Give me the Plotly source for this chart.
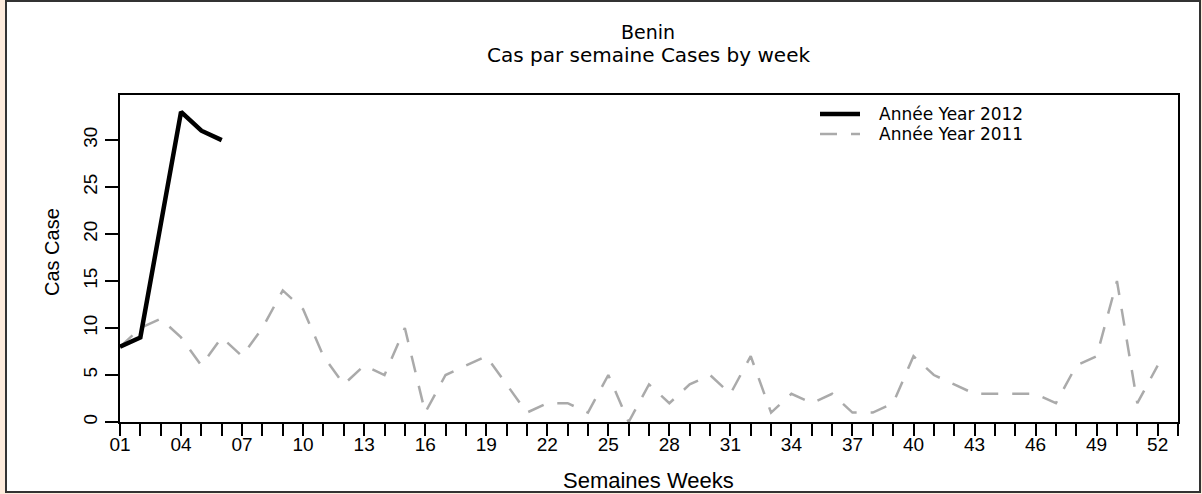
import plotly.graph_objects as go

# ---- data ----
weeks_2012 = [1, 2, 3, 4, 5, 6]
cases_2012 = [8, 9, 21, 33, 31, 30]

weeks_2011 = list(range(1, 53))
cases_2011 = [8, 10, 11, 9, 6, 9, 7, 10, 14, 12, 7, 4, 6, 5, 10, 1, 5, 6, 7, 4,
              1, 2, 2, 1, 5, 0, 4, 2, 4, 5, 3, 7, 1, 3, 2, 3, 1, 1, 2, 7,
              5, 4, 3, 3, 3, 3, 2, 6, 7, 15, 2, 6]

x_tick_weeks = list(range(1, 54))
x_tick_labels = [f"{w:02d}" if (w - 1) % 3 == 0 and w <= 52 else "" for w in x_tick_weeks]
y_tick_vals = [0, 5, 10, 15, 20, 25, 30]

title_line1 = "Benin"
title_line2 = "Cas par semaine Cases by week"
x_title = "Semaines Weeks"
y_title = "Cas Case"
name_2012 = "Année Year 2012"
name_2011 = "Année Year 2011"

# ---- styles ----
color_2012 = "#000000"
color_2011 = "#AAAAAA"
dash_2011 = "17px,14px"

# ---- layout geometry (pixels) ----
W, H = 1202, 494
L, R, T, B = 120, 1178, 95, 422


def px(x):
    return (x - L) / (R - L)


def py(y):
    return (B - y) / (B - T)


fig = go.Figure()
fig.add_trace(go.Scatter(
    x=weeks_2011, y=cases_2011, mode="lines", name=name_2011,
    line=dict(color=color_2011, width=2.5, dash=dash_2011),
))
fig.add_trace(go.Scatter(
    x=weeks_2012, y=cases_2012, mode="lines", name=name_2012,
    line=dict(color=color_2012, width=4.5),
))

tick_font = dict(family="Liberation Sans, Arial, sans-serif", size=19, color="#000")
legend_font = dict(family="DejaVu Sans, sans-serif", size=17, color="#000")

# manual legend (line samples + labels)
leg_x0, leg_x1, leg_tx = 820, 860, 877
leg_rows = [(114, name_2012, dict(color=color_2012, width=4.5)),
            (134, name_2011, dict(color=color_2011, width=2.5, dash=dash_2011))]

shapes = [dict(
    type="rect", xref="paper", yref="paper", layer="below",
    x0=px(6), x1=px(1200), y0=py(492), y1=py(1),
    line=dict(color="#333333", width=2), fillcolor="#FFFFFF",
)]
annotations = [
    dict(text=title_line1, xref="paper", yref="paper", x=px(648), y=py(32),
         xanchor="center", yanchor="middle", showarrow=False,
         font=dict(family="DejaVu Sans, sans-serif", size=19, color="#000")),
    dict(text=title_line2, xref="paper", yref="paper", x=px(648), y=py(55),
         xanchor="center", yanchor="middle", showarrow=False,
         font=dict(family="DejaVu Sans, sans-serif", size=20, color="#000")),
    dict(text=x_title, xref="paper", yref="paper", x=px(648), y=py(481),
         xanchor="center", yanchor="middle", showarrow=False,
         font=dict(family="Liberation Sans, Arial, sans-serif", size=22, color="#000")),
    dict(text=y_title, xref="paper", yref="paper", x=px(52), y=py(252),
         xanchor="center", yanchor="middle", showarrow=False, textangle=-90,
         font=dict(family="Liberation Sans, Arial, sans-serif", size=20, color="#000")),
]
for yy, label, ln in leg_rows:
    shapes.append(dict(type="line", xref="paper", yref="paper",
                       x0=px(leg_x0), x1=px(leg_x1), y0=py(yy), y1=py(yy), line=ln))
    annotations.append(dict(text=label, xref="paper", yref="paper", x=px(leg_tx), y=py(yy),
                            xanchor="left", yanchor="middle", showarrow=False,
                            font=legend_font))

fig.update_layout(
    width=W, height=H,
    margin=dict(l=L, r=W - R, t=T, b=H - B, pad=0),
    paper_bgcolor="#FDEBDC",
    plot_bgcolor="rgba(0,0,0,0)",
    showlegend=False,
    xaxis=dict(
        range=[1, 53], tickmode="array", tickvals=x_tick_weeks, ticktext=x_tick_labels,
        showgrid=False, zeroline=False, showline=True, mirror=True,
        linecolor="#000", linewidth=2, ticks="outside", ticklen=12, tickwidth=2,
        tickcolor="#000", tickfont=tick_font, tickangle=0, ticklabelstandoff=-8,
    ),
    yaxis=dict(
        range=[0, 34.8], tickmode="array", tickvals=y_tick_vals,
        showgrid=False, zeroline=False, showline=True, mirror=True,
        linecolor="#000", linewidth=2, ticks="outside", ticklen=13, tickwidth=2,
        tickcolor="#000", tickfont=tick_font, tickangle=-90,
    ),
    shapes=shapes,
    annotations=annotations,
)

fig.write_html("out.html", config={"displayModeBar": False},
               post_script="document.body.style.margin='0';")
